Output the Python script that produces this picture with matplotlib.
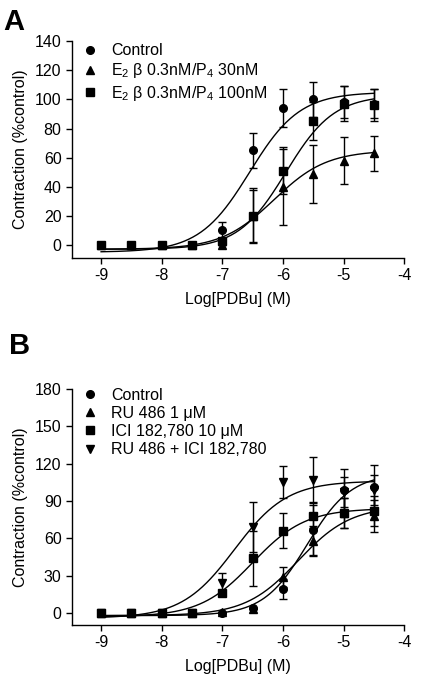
import numpy as np
import matplotlib
matplotlib.use('Agg')
import matplotlib.pyplot as plt

plt.rcParams['font.family'] = ['Liberation Sans', 'DejaVu Sans']
plt.rcParams['axes.unicode_minus'] = False
plt.rcParams['mathtext.fontset'] = 'custom'
plt.rcParams['mathtext.rm'] = 'Liberation Sans'
plt.rcParams['mathtext.it'] = 'Liberation Sans'

logdose = [-9, -8.5, -8, -7.5, -7, -6.5, -6, -5.5, -5, -4.5]

# panel A
a_labels = ['Control', 'E$_2$ β 0.3nM/P$_4$ 30nM', 'E$_2$ β 0.3nM/P$_4$ 100nM']
a_markers = ['o', '^', 's']
a_mean = [
    [0, 0, 0, 0, 10, 65, 94, 100, 98, 97],
    [0, 0, 0, 0, 0, 20, 40, 49, 58, 63],
    [0, 0, 0, 0, 3, 20, 51, 85, 97, 96],
]
a_sem = [
    [0, 0, 0, 0, 6, 12, 13, 12, 11, 10],
    [0, 0, 0, 0, 0, 18, 26, 20, 16, 12],
    [0, 0, 0, 0, 0, 19, 16, 13, 12, 11],
]
# fitted curve parameters: bottom, top, logEC50, hill
a_fit = [
    [-5, 105, -6.55, 1.05],
    [-3, 65, -6.15, 1.0],
    [-3, 103, -5.95, 1.1],
]

# panel B
b_labels = ['Control', 'RU 486 1 μM', 'ICI 182,780 10 μM', 'RU 486 + ICI 182,780']
b_markers = ['o', '^', 's', 'v']
b_mean = [
    [0, 0, 0, 0, 0, 4, 19, 67, 99, 101],
    [0, 0, 0, 0, 1, 3, 29, 58, 80, 78],
    [0, 0, 0, 0, 16, 44, 66, 78, 80, 82],
    [0, 0, 0, 0, 24, 69, 105, 107, 97, 99],
]
b_sem = [
    [0, 0, 0, 0, 0, 0, 8, 20, 17, 18],
    [0, 0, 0, 0, 0, 0, 8, 12, 12, 13],
    [0, 0, 0, 0, 0, 22, 14, 10, 12, 12],
    [0, 0, 0, 0, 8, 20, 13, 18, 12, 12],
]
b_fit = [
    [-2, 112, -5.6, 1.2],
    [-2, 86, -5.75, 1.0],
    [-3, 84, -6.5, 1.0],
    [-4, 106, -6.8, 1.0],
]


def logistic(x, bottom, top, ec50, hill):
    return bottom + (top - bottom) / (1 + 10 ** ((ec50 - x) * hill))


def panel(ax, labels, markers, means, sems, fits, ymax, ystep, ymin, leg_y):
    xx = np.linspace(-9, -4.5, 200)
    handles = []
    for lab, mk, m, s, f in zip(labels, markers, means, sems, fits):
        ax.plot(xx, logistic(xx, *f), color='black', lw=1.0, zorder=2)
        ax.errorbar(logdose, m, yerr=s, fmt='none', ecolor='black',
                    elinewidth=1.0, capsize=3, capthick=1.0, zorder=3)
        h, = ax.plot(logdose, m, linestyle='none', marker=mk, ms=5.5,
                     color='black', zorder=4, label=lab)
        handles.append(h)
    ax.set_xlim(-9.48, -4)
    ax.set_ylim(ymin, ymax)
    ax.set_xticks(np.arange(-9, -3, 1))
    ax.set_yticks(np.arange(0, ymax + 1, ystep))
    ax.spines['top'].set_visible(False)
    ax.spines['right'].set_visible(False)
    ax.spines['left'].set_bounds(ymin, ymax)
    for sp in ('left', 'bottom'):
        ax.spines[sp].set_linewidth(1.0)
    ax.tick_params(direction='out', length=4.5, width=1.0, labelsize=11.5, pad=3)
    ax.set_ylabel('Contraction (%control)', fontsize=11.5, labelpad=5)
    ax.set_xlabel('Log[PDBu] (M)', fontsize=11.5, labelpad=6)
    ax.legend(handles=handles, loc='upper left', bbox_to_anchor=(0.0, leg_y),
              frameon=False, fontsize=11.5, handlelength=1.0,
              handletextpad=0.85, labelspacing=0.2, borderaxespad=0.2)


fig = plt.figure(figsize=(4.21, 6.88), dpi=100)
ax1 = fig.add_axes([0.171, 0.625, 0.789, 0.315])
ax2 = fig.add_axes([0.171, 0.0916, 0.789, 0.3434])

panel(ax1, a_labels, a_markers, a_mean, a_sem, a_fit, 140, 20, -9, 1.035)
panel(ax2, b_labels, b_markers, b_mean, b_sem, b_fit, 180, 30, -9.5, 1.045)

fig.text(0.008, 0.988, 'A', fontsize=21, fontweight='bold', va='top')
fig.text(0.022, 0.517, 'B', fontsize=21, fontweight='bold', va='top')

fig.savefig('out.png', dpi=100)
